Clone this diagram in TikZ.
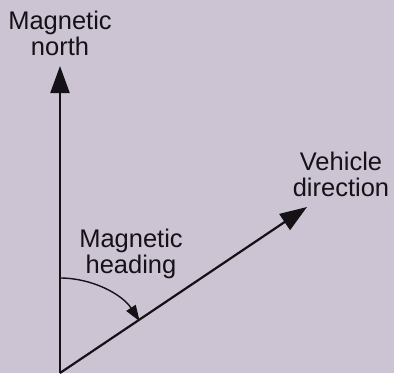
\documentclass[tikz,border=0pt]{standalone}
\usepackage{fontspec}
\setmainfont{Liberation Sans}
\usetikzlibrary{arrows.meta}
\definecolor{paper}{RGB}{205,196,211}
\definecolor{ink}{RGB}{20,18,22}
\tikzset{
  axis/.style={draw=ink, line width=2.2pt, -{Triangle[length=27pt,width=19pt]}},
  anglearc/.style={draw=ink, line width=1.4pt, -{Triangle[length=16pt,width=11pt]}},
  lbl/.style={text=ink, align=center, anchor=base, inner sep=0pt, font=\fontsize{25.5}{25.5}\selectfont}
}
\begin{document}
\begin{tikzpicture}[x=1pt,y=-1pt]
\fill[paper] (0,0) rectangle (394,373);
\useasboundingbox (0,0) rectangle (394,373);
\coordinate (O) at (60,373);
\coordinate (N) at (60,66);
\coordinate (D) at (307,207);
\coordinate (A) at (60,278);
\draw[axis] (O) -- (N);
\draw[axis] (O) -- (D);
\draw[anglearc] (A) arc[start angle=-90, end angle=-33, radius=95];
\node[lbl] (north) at (60,55) {Magnetic\\north};
\node[lbl] (veh) at (341,196) {Vehicle\\direction};
\node[lbl] (head) at (131,273) {Magnetic\\heading};
\end{tikzpicture}
\end{document}
